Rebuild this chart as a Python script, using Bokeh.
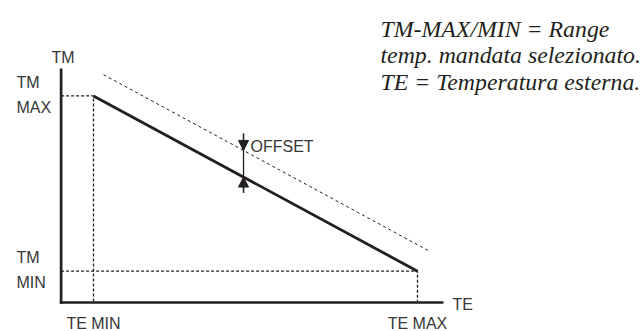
import numpy as np
from bokeh.plotting import figure
from bokeh.models import Range1d, Label, Arrow, NormalHead
from bokeh.core.properties import value
from bokeh.embed import file_html
from bokeh.resources import INLINE

# ---- data (abstract units of the schematic heating curve) ----
te_points = [1.0, 11.0]          # TE MIN, TE MAX  (outside temperature)
tm_points = [6.6, 1.0]           # TM MAX, TM MIN  (flow temperature)
offset_te = [1.31, 11.35]        # shifted (offset) curve
offset_tm = [7.28, 1.65]
axis_x_end = 11.8
axis_y_end = 7.48
offset_marker_te = 5.63
offset_marker_span = [3.51, 5.40]

x_tick_labels = ["TE MIN", "TE MAX"]
y_tick_top = ["TM", "TM"]
y_tick_bottom = ["MAX", "MIN"]
x_axis_title = "TE"
y_axis_title = "TM"
offset_label = "OFFSET"
note_lines = ["TM-MAX/MIN = Range", "temp. mandata selezionato.", "TE = Temperatura esterna."]

LINE = "#231f20"
TEXT = "#363636"
SANS = value("Liberation Sans")

W, H = 642, 331
px_x, px_y = 32.4, 31.3          # pixels per unit
ox, oy = 60.6, 302               # origin in frame pixels (from top-left)

p = figure(width=W, height=H, output_backend="svg", toolbar_location=None,
           x_range=Range1d(-ox / px_x, (W - ox) / px_x),
           y_range=Range1d(-(H - oy) / px_y, oy / px_y),
           x_axis_type=None, y_axis_type=None,
           min_border=0, min_border_left=0, min_border_right=0,
           min_border_top=0, min_border_bottom=0)
p.outline_line_color = None
p.grid.visible = False
p.background_fill_color = "white"
p.border_fill_color = "white"

# axes
p.line([0, 0], [axis_y_end, -0.04], line_color=LINE, line_width=2.7)
p.line([-0.04, axis_x_end], [0, 0], line_color=LINE, line_width=2.7)

# dotted guides
p.line([0, te_points[0], te_points[0]], [tm_points[0], tm_points[0], 0],
       line_color=LINE, line_width=1.3, line_dash="3 2")
p.line([0, te_points[1], te_points[1]], [tm_points[1], tm_points[1], 0],
       line_color=LINE, line_width=1.3, line_dash="3 2")

# offset curve
p.line(offset_te, offset_tm, line_color=LINE, line_width=1.0, line_dash="3 3")

# main curve
p.line(te_points, tm_points, line_color=LINE, line_width=2.8)

# offset marker: shaft + two arrow heads touching the curves
p.line([offset_marker_te, offset_marker_te], offset_marker_span, line_color=LINE, line_width=1.3)
y_solid = float(np.interp(offset_marker_te, te_points, tm_points))
y_dash = float(np.interp(offset_marker_te, offset_te, offset_tm))
for y_from, y_to in [(offset_marker_span[1], y_dash), (offset_marker_span[0], y_solid)]:
    p.add_layout(Arrow(end=NormalHead(size=10, fill_color=LINE, line_color=LINE, line_width=1),
                       x_start=offset_marker_te, y_start=y_from,
                       x_end=offset_marker_te, y_end=y_to,
                       line_color=LINE, line_width=1.3))

# labels
common = dict(text_font=SANS, text_font_size="16px", text_color=TEXT, text_baseline="middle")
p.text(x=te_points, y=[0, 0], text=x_tick_labels, text_align="center", y_offset=21, **common)
p.text(x=[0, 0], y=[tm_points[0], tm_points[1]], text=y_tick_top, text_align="left",
       x_offset=-44.6, y_offset=-13.5, **common)
p.text(x=[0, 0], y=[tm_points[0], tm_points[1]], text=y_tick_bottom, text_align="left",
       x_offset=-44.6, y_offset=11.2, **common)
p.text(x=[0], y=[axis_y_end], text=[y_axis_title], text_align="center",
       x_offset=2, y_offset=-10.5, **common)
p.text(x=[axis_x_end], y=[0], text=[x_axis_title], text_align="left",
       x_offset=9, y_offset=1.5, **common)
p.text(x=[offset_marker_te], y=[offset_marker_span[1]], text=[offset_label], text_align="left",
       x_offset=7, y_offset=13, **common)

# note (top right)
for i, line in enumerate(note_lines):
    p.add_layout(Label(x=380, y=H - 28 - 26.5 * i, x_units="screen", y_units="screen",
                       text=line, text_font="Liberation Serif", text_font_style="italic",
                       text_font_size="23.8px", text_color=LINE, text_baseline="alphabetic"))

open("out.html", "w").write(file_html(p, INLINE))
